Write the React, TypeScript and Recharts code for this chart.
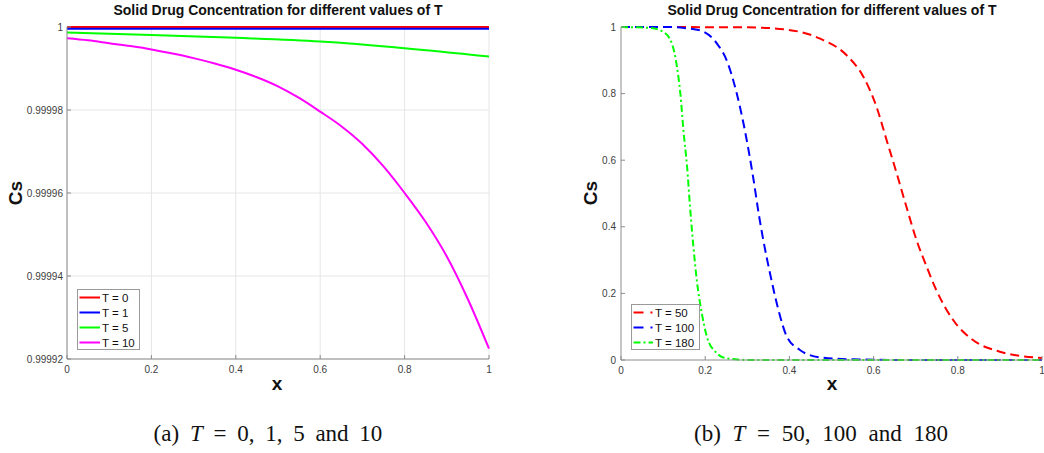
import React from 'react';
import { LineChart, Line, XAxis, YAxis, CartesianGrid } from 'recharts';

const xTicks = [0, 0.2, 0.4, 0.6, 0.8, 1];
const leftYTicks = [0.99992, 0.99994, 0.99996, 0.99998, 1];
const rightYTicks = [0, 0.2, 0.4, 0.6, 0.8, 1];

// (a) T = 0, 1, 5, 10
const t0X = [0, 0.5, 1];
const t0Cs = [1, 1, 1];
const t1X = [0, 0.5, 1];
const t1Cs = [0.9999996, 0.9999996, 0.9999996];
const t5X = [0, 0.2, 0.4, 0.6, 0.8, 1];
const t5Cs = [0.9999987, 0.9999981, 0.9999974, 0.9999965, 0.9999949, 0.9999929];
const t10X = [0, 0.05, 0.1, 0.15, 0.2, 0.25, 0.3, 0.35, 0.4, 0.45, 0.5, 0.55, 0.6, 0.65, 0.7, 0.75, 0.8, 0.85, 0.9, 0.95, 1];
const t10Cs = [
  0.9999973, 0.9999968, 0.9999961, 0.9999954, 0.9999946, 0.9999936, 0.9999925,
  0.9999912, 0.9999897, 0.9999879, 0.9999857, 0.9999829, 0.9999796, 0.9999761,
  0.9999718, 0.9999664, 0.99996, 0.999953, 0.9999447, 0.9999344, 0.9999225,
];

// (b) T = 50, 100, 180
const t50X = [0, 0.3, 0.394, 0.473, 0.536, 0.576, 0.607, 0.631, 0.655, 0.678, 0.702, 0.726, 0.749, 0.789, 0.836, 0.9, 1];
const t50Cs = [1, 0.999, 0.992, 0.965, 0.915, 0.85, 0.76, 0.66, 0.56, 0.46, 0.36, 0.28, 0.21, 0.12, 0.06, 0.025, 0.006];
const t100X = [0, 0.109, 0.15, 0.188, 0.228, 0.251, 0.275, 0.291, 0.303, 0.315, 0.327, 0.338, 0.354, 0.374, 0.394, 0.425, 0.473, 0.55, 0.7, 1];
const t100Cs = [1, 1, 0.997, 0.99, 0.95, 0.9, 0.8, 0.71, 0.63, 0.54, 0.44, 0.36, 0.26, 0.15, 0.07, 0.03, 0.008, 0.002, 0, 0];
const t180X = [0, 0.07, 0.101, 0.121, 0.133, 0.141, 0.149, 0.157, 0.164, 0.172, 0.18, 0.192, 0.204, 0.224, 0.251, 0.307, 1];
const t180Cs = [1, 0.997, 0.985, 0.95, 0.88, 0.8, 0.68, 0.58, 0.46, 0.34, 0.24, 0.14, 0.07, 0.025, 0.005, 0, 0];

const toPoints = (xs: number[], ys: number[]) => xs.map((x, i) => ({ x, cs: ys[i] }));

type Series = { name: string; color: string; dash?: string; legendDash?: string; data: { x: number; cs: number }[] };

const leftSeries: Series[] = [
  { name: 'T = 0', color: '#ff0000', data: toPoints(t0X, t0Cs) },
  { name: 'T = 1', color: '#0000ff', data: toPoints(t1X, t1Cs) },
  { name: 'T = 5', color: '#00ff00', data: toPoints(t5X, t5Cs) },
  { name: 'T = 10', color: '#ff00ff', data: toPoints(t10X, t10Cs) },
];

const rightSeries: Series[] = [
  { name: 'T = 50', color: '#ff0000', dash: '9 5', legendDash: '10 7 2 40', data: toPoints(t50X, t50Cs) },
  { name: 'T = 100', color: '#0000ff', dash: '9 5', legendDash: '10 7 2 40', data: toPoints(t100X, t100Cs) },
  { name: 'T = 180', color: '#00ff00', dash: '7 3 2 3', legendDash: '7 3 2 3', data: toPoints(t180X, t180Cs) },
];

const sans = '"Liberation Sans", Arial, Helvetica, sans-serif';
const serif = '"Liberation Serif", "DejaVu Serif", serif';
const axisColor = '#8c8c8c';
const tickStyle = { fontSize: 10, fill: '#404040', fontFamily: sans };

function Legend({ items, left, top, width, height, textX }: { items: Series[]; left: number; top: number; width: number; height: number; textX: number }) {
  return (
    <g transform={`translate(${left},${top})`}>
      <rect x={0.5} y={0.5} width={width} height={height} fill="#fff" stroke="#9a9a9a" />
      {items.map((s, i) => {
        const cy = 8.5 + i * 15;
        return (
          <g key={s.name}>
            <line x1={2.5} x2={textX - 2} y1={cy} y2={cy} stroke={s.color} strokeWidth={2} strokeDasharray={s.legendDash} />
            <text x={textX} y={cy + 4} fontSize={11.5} fontFamily={sans} fill="#111">{s.name}</text>
          </g>
        );
      })}
    </g>
  );
}

export default function App() {
  return (
    <div style={{ position: 'absolute', left: 0, top: 0, width: 1044, height: 453, background: '#fff', overflow: 'hidden' }}>
      <div style={{ position: 'absolute', left: 0, top: 0 }}>
        <LineChart width={520} height={400} margin={{ top: 27, right: 31, bottom: 11, left: 0 }} style={{ overflow: 'visible' }}>
          <CartesianGrid stroke="#e6e6e6" />
          <XAxis dataKey="x" type="number" domain={[0, 1]} ticks={xTicks} interval={0} height={30}
            tickSize={-4} tickMargin={11} stroke={axisColor} tick={tickStyle} tickFormatter={(v: number) => String(v)} />
          <YAxis type="number" domain={[0.99992, 1]} ticks={leftYTicks} interval={0} width={67}
            tickSize={-4} tickMargin={8} stroke={axisColor} tick={tickStyle} tickFormatter={(v: number) => String(v)} />
          {leftSeries.map((s) => (
            <Line key={s.name} data={s.data} dataKey="cs" name={s.name} type="monotone" stroke={s.color}
              strokeWidth={2} dot={false} activeDot={false} isAnimationActive={false} />
          ))}
        </LineChart>
      </div>
      <div style={{ position: 'absolute', left: 520, top: 0 }}>
        <LineChart width={524} height={400} margin={{ top: 27, right: 2, bottom: 10, left: 0 }} style={{ overflow: 'visible' }}>
          <XAxis dataKey="x" type="number" domain={[0, 1]} ticks={xTicks} interval={0} height={30}
            tickSize={-4} tickMargin={11} stroke={axisColor} tick={tickStyle} tickFormatter={(v: number) => String(v)} />
          <YAxis type="number" domain={[0, 1]} ticks={rightYTicks} interval={0} width={101}
            tickSize={-4} tickMargin={9} stroke={axisColor} tick={tickStyle} tickFormatter={(v: number) => String(v)} />
          {rightSeries.map((s) => (
            <Line key={s.name} data={s.data} dataKey="cs" name={s.name} type="monotone" stroke={s.color}
              strokeWidth={2} strokeDasharray={s.dash} dot={false} activeDot={false} isAnimationActive={false} />
          ))}
        </LineChart>
      </div>
      <svg width={1044} height={453} style={{ position: 'absolute', left: 0, top: 0, pointerEvents: 'none' }}>
        <text x={278} y={15} textAnchor="middle" fontSize={14} fontWeight="bold" fontFamily={sans} fill="#111">
          Solid Drug Concentration for different values of T
        </text>
        <text x={832} y={15} textAnchor="middle" fontSize={14} fontWeight="bold" fontFamily={sans} fill="#111">
          Solid Drug Concentration for different values of T
        </text>
        <text x={277} y={390} textAnchor="middle" fontSize={19} fontWeight="bold" fontFamily={sans} fill="#111">x</text>
        <text x={832} y={390} textAnchor="middle" fontSize={19} fontWeight="bold" fontFamily={sans} fill="#111">x</text>
        <text transform="translate(22,193) rotate(-90)" textAnchor="middle" fontSize={19} fontWeight="bold" fontFamily={sans} fill="#111">Cs</text>
        <text transform="translate(597,193) rotate(-90)" textAnchor="middle" fontSize={19} fontWeight="bold" fontFamily={sans} fill="#111">Cs</text>
        <Legend items={leftSeries} left={77} top={289} width={62} height={60} textX={25} />
        <Legend items={rightSeries} left={631} top={304} width={68} height={45} textX={24} />
        <text x={268} y={441} textAnchor="middle" fontSize={23} fontFamily={serif} fill="#111" style={{ wordSpacing: 5 }}>
          (a) <tspan fontStyle="italic">T</tspan> = 0, 1, 5 and 10
        </text>
        <text x={821} y={441} textAnchor="middle" fontSize={23} fontFamily={serif} fill="#111" style={{ wordSpacing: 6 }}>
          (b) <tspan fontStyle="italic">T</tspan> = 50, 100 and 180
        </text>
      </svg>
    </div>
  );
}
